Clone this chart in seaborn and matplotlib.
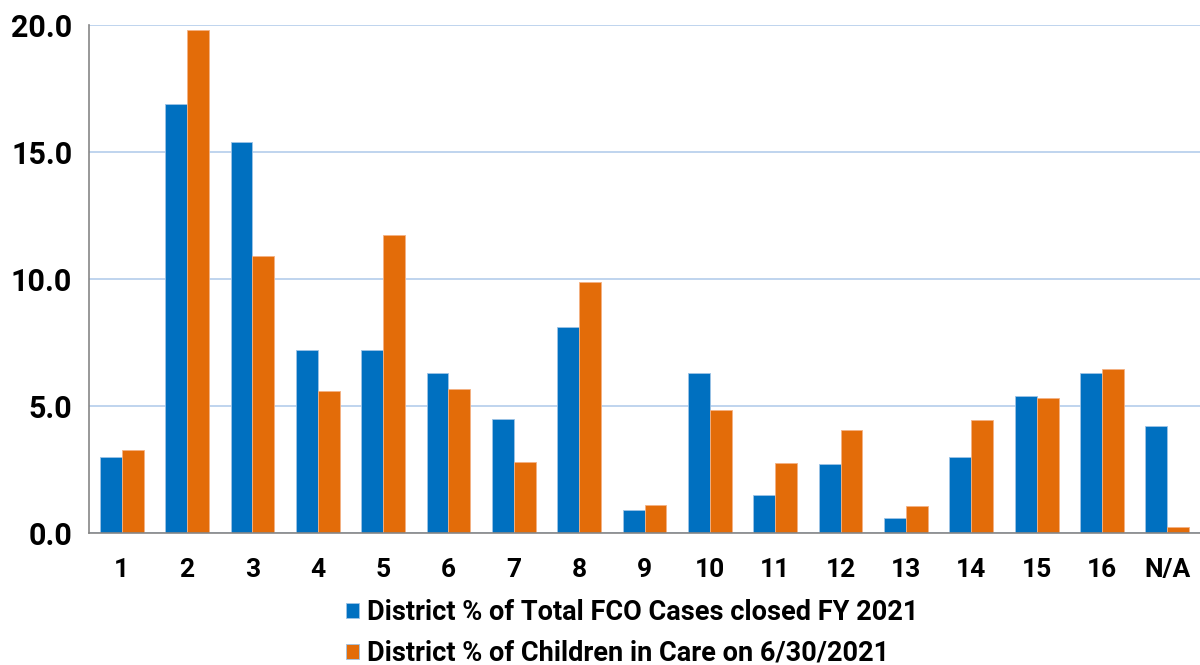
import pandas as pd
import matplotlib
matplotlib.use("Agg")
import matplotlib.pyplot as plt
import seaborn as sns
from matplotlib.ticker import FixedLocator

# data
districts = ["1", "2", "3", "4", "5", "6", "7", "8", "9", "10",
             "11", "12", "13", "14", "15", "16", "N/A"]
fco_closed = [3.0, 16.9, 15.4, 7.2, 7.2, 6.3, 4.5, 8.1, 0.9, 6.3,
              1.5, 2.7, 0.6, 3.0, 5.4, 6.3, 4.2]
in_care = [3.25, 19.8, 10.9, 5.6, 11.75, 5.65, 2.8, 9.9, 1.1, 4.85,
           2.75, 4.05, 1.05, 4.45, 5.3, 6.45, 0.25]
series_names = ["District % of Total FCO Cases closed FY 2021",
                "District % of Children in Care on 6/30/2021"]
colors = ["#0070C0", "#E36C09"]

df = pd.DataFrame({
    "district": districts * 2,
    "value": fco_closed + in_care,
    "series": [series_names[0]] * len(districts) + [series_names[1]] * len(districts),
})

sns.set_style("white")
font = ["Roboto", "DejaVu Sans"]
plt.rcParams["font.family"] = font
plt.rcParams["text.color"] = "black"
plt.rcParams["xtick.color"] = "black"
plt.rcParams["ytick.color"] = "black"

fig = plt.figure(figsize=(12, 6.65), dpi=100)
ax = fig.add_axes([0.0742, 0.1985, 0.9258, 0.764])

sns.barplot(data=df, x="district", y="value", hue="series", palette=colors,
            saturation=1, width=0.67, edgecolor="#9DC3E6", linewidth=0.6, ax=ax)
for bar in ax.patches[len(districts):2 * len(districts)]:
    bar.set_edgecolor("#F4B183")

ax.set_xlim(-0.5, len(districts) - 0.5)
ax.set_ylim(0, 20)
ax.set_yticks([0, 5, 10, 15, 20])
ax.set_yticklabels([f"{v:.1f}" for v in [0, 5, 10, 15, 20]],
                   fontsize=22, fontweight="bold")
ax.yaxis.grid(True, color="#B4CDEB", linewidth=1.2)
ax.set_axisbelow(True)

ax.xaxis.set_minor_locator(FixedLocator([i - 0.5 for i in range(len(districts) + 1)]))
ax.tick_params(axis="x", which="major", length=0, pad=18, labelsize=19)
ax.tick_params(axis="x", which="minor", length=8, color="#868686", width=1.2)
ax.tick_params(axis="y", length=7, color="#868686", width=1.2, pad=5)
for lbl in ax.get_xticklabels():
    lbl.set_fontweight("bold")

for side in ["top", "right"]:
    ax.spines[side].set_visible(False)
for side in ["left", "bottom"]:
    ax.spines[side].set_color("#868686")
    ax.spines[side].set_linewidth(1.2)

ax.set_xlabel("")
ax.set_ylabel("")

handles, labels = ax.get_legend_handles_labels()
ax.legend(handles, labels, loc="upper left", bbox_to_anchor=(0.214, -0.093),
          frameon=False, handlelength=0.48, handleheight=0.48,
          handletextpad=0.3, labelspacing=0.5, borderpad=0.2,
          prop={"family": font, "weight": "bold", "size": 19.5})

fig.savefig("out.png", dpi=100)
